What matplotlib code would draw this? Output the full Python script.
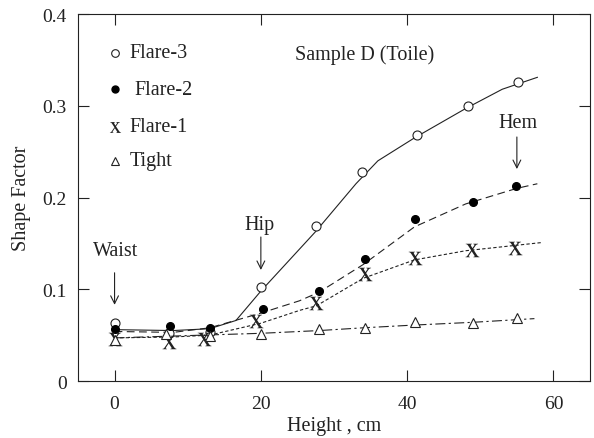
import matplotlib
matplotlib.use("Agg")
import matplotlib.pyplot as plt

plt.rcParams['font.family'] = ['Liberation Serif', 'DejaVu Serif']
plt.rcParams['mathtext.fontset'] = 'stix'

# Measured points
flare3_x = [0, 7.5, 13, 20, 27.5, 33.8, 41.3, 48.3, 55.1]
flare3_y = [0.063, 0.052, 0.053, 0.102, 0.169, 0.228, 0.268, 0.300, 0.326]
flare2_x = [0, 7.6, 13.1, 20.3, 27.9, 34.3, 41.1, 49.0, 54.9]
flare2_y = [0.057, 0.060, 0.058, 0.078, 0.098, 0.133, 0.177, 0.195, 0.213]
flare1_x = [0, 7.4, 12.2, 19.4, 27.6, 34.2, 41.1, 48.9, 54.8]
flare1_y = [0.046, 0.042, 0.046, 0.065, 0.085, 0.117, 0.134, 0.143, 0.145]
tight_x = [0, 7.0, 13.0, 20.0, 27.9, 34.2, 41.1, 49.0, 55.0]
tight_y = [0.045, 0.051, 0.049, 0.051, 0.057, 0.058, 0.064, 0.063, 0.069]

# Fitted curves (as drawn)
fit3_x = [0, 8, 13, 16.6, 20, 27.5, 33, 36, 41, 48, 53, 57.8]
fit3_y = [0.056, 0.055, 0.057, 0.066, 0.098, 0.163, 0.215, 0.240, 0.265, 0.297, 0.318, 0.331]
fit2_x = [0, 8, 13, 20, 25.3, 28, 34, 41, 48, 55, 57.8]
fit2_y = [0.054, 0.053, 0.058, 0.074, 0.0875, 0.097, 0.127, 0.168, 0.193, 0.210, 0.215]
fit1_x = [0, 8, 13, 20, 25.3, 27.6, 34, 41, 48, 55, 58.5]
fit1_y = [0.047, 0.048, 0.050, 0.063, 0.077, 0.082, 0.112, 0.132, 0.142, 0.148, 0.151]
fitt_x = [0, 20, 28, 34, 41, 49, 57.4]
fitt_y = [0.047, 0.052, 0.055, 0.058, 0.061, 0.064, 0.068]

legend_labels = ['Flare-3', 'Flare-2', 'Flare-1', 'Tight']
legend_y = [0.358, 0.318, 0.277, 0.240]

ink = '#222222'

fig = plt.figure(figsize=(5.94, 4.39), dpi=100)
ax = fig.add_axes([0.1313, 0.1298, 0.8620, 0.8360])

ax.plot(fit3_x, fit3_y, '-', color=ink, lw=0.8)
ax.plot(fit2_x, fit2_y, color=ink, lw=0.8, dashes=(7, 4))
ax.plot(fit1_x, fit1_y, color=ink, lw=0.8, dashes=(3, 2))
ax.plot(fitt_x, fitt_y, color=ink, lw=0.8, dashes=(9, 3, 2, 3))

xm = r'$\mathrm{x}$'
ax.plot(flare3_x, flare3_y, 'o', ms=6.5, mfc='white', mec=ink, mew=0.8, ls='none')
ax.plot(flare2_x, flare2_y, 'o', ms=5.5, mfc='black', mec='black', ls='none')
ax.plot(flare1_x, flare1_y, marker=xm, ms=10, color=ink, mew=0, ls='none')
ax.plot(tight_x, tight_y, '^', ms=6.5, mfc='white', mec=ink, mew=0.8, ls='none')

# hand-made legend
markers = [dict(marker='o', ms=5.5, mfc='white', mec=ink, mew=0.8),
           dict(marker='o', ms=5, mfc='black', mec='black'),
           dict(marker=xm, ms=8, color=ink, mew=0),
           dict(marker='^', ms=5.5, mfc='white', mec=ink, mew=0.8)]
label_x = [2.0, 2.7, 2.0, 2.0]
for lab, yy, mk, lx in zip(legend_labels, legend_y, markers, label_x):
    ax.plot([0], [yy], ls='none', **mk)
    ax.text(lx, yy, lab, fontsize=14.5, color=ink, va='center', ha='left')

ax.text(24.6, 0.356, 'Sample D (Toile)', fontsize=14.5, color=ink, va='center', ha='left')

arrow = dict(arrowstyle='->', color=ink, lw=0.8, mutation_scale=14)
ax.text(0.2, 0.142, 'Waist', fontsize=14.5, color=ink, ha='center', va='center')
ax.annotate('', xy=(0, 0.080), xytext=(0, 0.121), arrowprops=arrow)
ax.text(19.8, 0.171, 'Hip', fontsize=14.5, color=ink, ha='center', va='center')
ax.annotate('', xy=(20, 0.118), xytext=(20, 0.160), arrowprops=arrow)
ax.text(55.1, 0.282, 'Hem', fontsize=14.5, color=ink, ha='center', va='center')
ax.annotate('', xy=(55, 0.228), xytext=(55, 0.269), arrowprops=arrow)

ax.set_xlim(-5, 65)
ax.set_ylim(0, 0.4)
ax.set_xticks([0, 20, 40, 60])
ax.set_yticks([0, 0.1, 0.2, 0.3, 0.4])
ax.set_yticklabels(['0', '0.1', '0.2', '0.3', '0.4'])
ax.tick_params(direction='in', length=8, width=0.8, colors=ink, labelsize=14,
               top=True, right=True)
ax.tick_params(axis='y', pad=8)
ax.tick_params(axis='x', pad=10)
for s in ax.spines.values():
    s.set_linewidth(0.8)
    s.set_color(ink)
ax.set_xlabel('Height , cm', fontsize=14.5, color=ink, labelpad=3)
ax.set_ylabel('Shape Factor', fontsize=14.5, color=ink, labelpad=8)

fig.savefig('out.png', dpi=100)
